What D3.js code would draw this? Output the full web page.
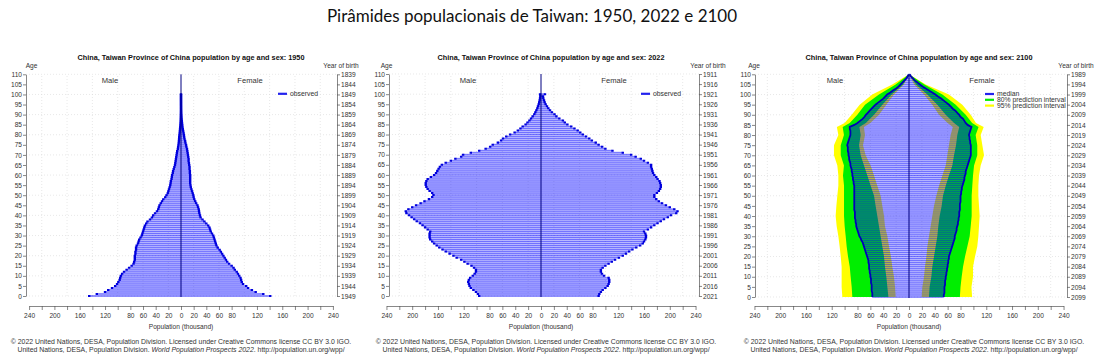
<!DOCTYPE html>
<html><head><meta charset="utf-8">
<script src="https://cdn.jsdelivr.net/npm/d3@7"></script>
<style>
body{margin:0;background:#fff}
svg{display:block}
text{font-family:"Liberation Sans",Arial,sans-serif}
</style>
</head><body>
<svg id="chart" width="1097" height="362"></svg>
<script>
// ages shown on the pyramids
var ages100 = d3.range(0, 101);
var ages110 = d3.range(0, 111);
var bandAges = [0,5,10,15,20,25,30,35,40,45,50,55,60,65,70,75,80,84,86,90,95,100,105,110];

// x axis ticks (thousand)
var xTicks = d3.range(-240, 241, 20);
var xLabelled = [-240,-200,-160,-120,-80,-60,-40,-20,0,20,40,60,80,120,160,200,240];

// 1950 observed (thousand)
var male1950 = [145,133,120,115,109,104,101,99,97,96,
  95,93,90,86,82,78,75,74,73,73,
  73,72,72,71,71,70,68,67,66,64,
  62,61,60,59,58,57,55,53,49,46,
  44,41,38,36,35,34,32,30,28,25,
  23,21,20,19,18,17,16.5,16,15,14.5,
  14,13,12.5,11.5,10.5,9.5,9,8.5,8,7.5,
  7,6.5,6,5,4.5,4,3.6,3.3,3,2.8,
  2.5,2.1,1.8,1.5,1.2,1,0.8,0.6,0.5,0.4,
  0.3,0.25,0.2,0.15,0.1,0.1,0.05,0.05,0.03,0.02,0.02];
var female1950 = [141,130,118,112,106,103,98,96,95,94,
  92,90,88,85,83,80,76,73,71,69,
  67,65,63,61,58,56,55,54,53,52,
  51,49,47,46,45,43,40,37,34,31,
  30,29,28.5,28,27,26,24,22.5,21,20,
  19.5,18.5,17.5,16.5,15.5,15,14.5,14.5,14.5,14.5,
  14.5,14,14,13.5,13.5,13,12.5,12,12,11.5,
  11,10.5,10,9.5,8.5,8,7,6.5,5.5,5,
  4.5,4,3.4,2.8,2.3,2,1.6,1.3,1,0.8,
  0.6,0.45,0.35,0.25,0.2,0.15,0.1,0.08,0.05,0.04,0.05];

// 2022 observed (thousand)
var male2022 = [96,98,101,105,109,111,112,113,112,110,
  106,103,101,101,104,108,114,119,124,131,
  136,142,148,153,158,162,166,169,172,173,
  173,173,172,176,180,184,188,193,197,201,
  205,209,210,206,200,194,187,181,174,169,
  167,169,173,176,178,179,179,178,176,171,
  166,163,161,159,157,154,148,140,133,124,
  121,109,96,86,79,75,67,62,59,54,
  48,41,36,32,28.5,24,21,18,15.5,13,
  10.4,8.8,7.2,5.7,4.7,3.6,2.8,2.1,1.5,1.1,1.5];
var female2022 = [89.5,90.6,93,95.8,100,103.5,105,106,106,105,
  98,94.7,93,93,95.8,100,105,110,115,121,
  127,132,137,142,148,154,158,160,162,163,
  163,162,160,166,171,176,181,186,191,197,
  202,210,212,207,200,194,188,183,179,176,
  176,180,183,185,186,186,185,184,181,179,
  176,174,173,172,171,171,166,160,155,147,
  140,127,111,100,95,89.5,85,79,75,70,
  65,61,57,52,47,41,37,34,28.5,24,
  21,17,14,11.4,9.3,7.2,5.7,4.7,3.6,3.1,6.2];

// 2100 projection, median (thousand)
var male2100 = [57,57,57,58,58,58,58,59,59,59,
  60,60,61,61,62,62,62,63,63,64,
  65,66,67,68,69,70,71,72,74,75,
  77,78,79,80,81,82,82,83,83,84,
  84,84,84,85,85,85,85,85,85,85,
  85,85,85,85,85,85,86,86,87,87,
  88,88,89,89,90,91,91,92,93,93,
  94,94,95,95,95,96,95,94,93,92,
  91,91,91,92,92,85,80,76,72,69,
  67,64,61,58,55,52,48,44,40,37,
  34,29,25,20,16,13,10,7,4,2,0.5];
var female2100 = [54,54,55,55,55,55,56,56,56,57,
  57,58,58,59,59,60,60,61,61,62,
  62,63,64,65,66,67,68,69,70,71,
  71,72,73,74,74,75,76,76,77,77,
  78,78,78,79,79,79,79,80,80,80,
  80,81,81,82,82,83,84,85,86,86,
  87,88,88,89,90,91,92,93,94,95,
  96,96,96,96,96,96,95,95,94,94,
  93,94,95,96,97,91,88,86,84,80,
  78,75,72,68,65,62,58,54,50,45,
  41,36,31,26,21,17,13,9,6,3,1];

// 2100 prediction intervals at bandAges (thousand)
var male2100Lo95 = [20.7,21.7,23.3,25.9,28,31,33.6,37.3,38.8,41.4,44,49.2,54.3,59.5,67.3,71.4,68.3,70,60,46.6,35.2,23.3,7.8,0];
var male2100Lo80 = [32,33.6,35.2,37.3,38.8,41.4,44,46.6,49.2,51.8,54.3,59.5,64.7,69.9,75,77.6,75,77,67,54.3,41.4,27,9.3,0];
var male2100Hi80 = [88,89,90.6,92,94.7,96.8,98.3,99.9,100.9,100.9,100.9,100.9,102.5,101,106,106,101,103,92,80.2,68.3,46.6,20.7,0];
var male2100Hi95 = [103.5,104.6,104.6,104.6,106,107.7,109.7,112.3,113.9,112.8,111.3,109.7,109.7,111.3,116.5,116.5,109.7,112,100,89,76.6,57,26,0];
var female2100Lo95 = [19.7,20.7,23.3,24.8,27,28.5,31,33.6,36.2,38.8,42.4,46.6,51.8,57,59.5,62,64.7,68,60,46.6,36.2,23.3,8,0];
var female2100Lo80 = [31,32,34.7,36.2,38.8,41.4,44,45.5,47.6,50.7,52.8,57,62,67.3,69.9,73,75,78,70,57,44,28.5,11,0];
var female2100Hi80 = [79,80,81.8,83.9,87,90.6,94.2,95.8,97.3,97.3,97.3,98.3,99.4,101,106,106,103.5,108,98,88,72.5,51.8,24,0];
var female2100Hi95 = [98,97,99.4,99.4,102.5,106,107.7,108.7,109.7,108.7,107.7,107.7,108.7,111.3,116.5,113.9,111.3,116,104,95.8,82.8,62,26,0];

var svg = d3.select("#chart");

// main title
svg.append("text")
  .attr("x", 532).attr("y", 22)
  .attr("text-anchor", "middle")
  .style("font-family", "Lato, 'Open Sans', sans-serif")
  .style("font-size", "17px")
  .attr("fill", "#111")
  .text("Pirâmides populacionais de Taiwan: 1950, 2022 e 2100");

// layout of the three panels
var panels = [
  {year: 1950, zero: 181, k: 0.633, left: 26, right: 337, yBottom: 296, yTop: 74.3,
   titleX: 191, ageX: 31.5, yobX: 341, maleX: 110, femaleX: 250, legX: 278, copyX: 181,
   male: male1950, female: female1950, ages: ages100},
  {year: 2022, zero: 541, k: 0.644, left: 389, right: 699, yBottom: 296, yTop: 74,
   titleX: 551, ageX: 386.5, yobX: 708, maleX: 468, femaleX: 614, legX: 641, copyX: 546,
   male: male2022, female: female2022, ages: ages100},
  {year: 2100, zero: 909, k: 0.644, left: 755, right: 1067, yBottom: 297, yTop: 74.3,
   titleX: 919, ageX: 754, yobX: 1076, maleX: 835, femaleX: 982, legX: 985, copyX: 914,
   male: male2100, female: female2100, ages: ages110, projection: true}
];

panels.forEach(function(p) {
  var x = d3.scaleLinear().domain([-240, 240]).range([p.zero - 240 * p.k, p.zero + 240 * p.k]);
  var y = d3.scaleLinear().domain([0, 110]).range([p.yBottom, p.yTop]);
  var g = svg.append("g");

  // faint dotted grid
  var grid = g.append("g").attr("stroke", "#d9d9d9").attr("stroke-width", 0.6).attr("stroke-dasharray", "1,2");
  [-220,-180,-140,-100,-60,-20,20,60,100,140,180,220].forEach(function(v) {
    grid.append("line").attr("x1", x(v)).attr("x2", x(v)).attr("y1", y(0)).attr("y2", y(110));
  });
  d3.range(0, 111, 10).forEach(function(a) {
    grid.append("line").attr("x1", p.left).attr("x2", p.right).attr("y1", y(a)).attr("y2", y(a));
  });

  // prediction bands under the bars
  if (p.projection) {
    var bands = [
      {lo: [male2100Lo95, female2100Lo95], hi: [male2100Hi95, female2100Hi95], color: "#ffff00"},
      {lo: [male2100Lo80, female2100Lo80], hi: [male2100Hi80, female2100Hi80], color: "#00ee00"}
    ];
    bands.forEach(function(b) {
      [-1, 1].forEach(function(sign, si) {
        var area = d3.area()
          .y(function(d, i) { return y(bandAges[i]); })
          .x0(function(d, i) { return x(sign * b.lo[si][i]); })
          .x1(function(d, i) { return x(sign * b.hi[si][i]); });
        g.append("path").datum(bandAges).attr("d", area).attr("fill", b.color);
      });
    });
  }

  // bars, one per single year of age
  [[-1, p.male], [1, p.female]].forEach(function(s) {
    var sign = s[0], vals = s[1];
    g.append("g").selectAll("rect").data(vals).enter().append("rect")
      .attr("x", function(d) { return sign < 0 ? x(-d) : x(0); })
      .attr("width", function(d) { return Math.abs(x(d) - x(0)); })
      .attr("y", function(d, i) { return y(p.ages[i] + 0.5); })
      .attr("height", function(d, i) { return y(p.ages[i] - 0.5) - y(p.ages[i] + 0.5); })
      .attr("fill", "#0000ff").attr("fill-opacity", 0.3);
    g.append("g").selectAll("line").data(vals).enter().append("line")
      .attr("x1", x(0))
      .attr("x2", function(d) { return x(sign * d); })
      .attr("y1", function(d, i) { return y(p.ages[i]); })
      .attr("y2", function(d, i) { return y(p.ages[i]); })
      .attr("stroke", "#0000ff").attr("stroke-opacity", 0.42).attr("stroke-width", 0.9);

    if (p.projection) {
      var line = d3.line()
        .x(function(d) { return x(sign * d); })
        .y(function(d, i) { return y(p.ages[i]); });
      g.append("path").datum(vals).attr("d", line)
        .attr("fill", "none").attr("stroke", "#0000b8").attr("stroke-width", 1.8);
    } else {
      // short thick marks at the end of every bar
      var d = vals.map(function(v, i) {
        return "M" + x(sign * v) + "," + y(p.ages[i] - 0.5) + "V" + y(p.ages[i] + 0.5);
      }).join("");
      g.append("path").attr("d", d).attr("fill", "none")
        .attr("stroke", "#0000dd").attr("stroke-width", 2.4);
    }
  });

  // centre line
  g.append("line").attr("x1", x(0)).attr("x2", x(0)).attr("y1", y(-0.5)).attr("y2", y(110))
    .attr("stroke", "#000080").attr("stroke-width", 1);

  // axes
  var yAxisL = d3.axisLeft(y).tickValues(d3.range(0, 111, 5)).tickSize(3).tickSizeOuter(0).tickPadding(1);
  var yAxisR = d3.axisRight(y).tickValues(d3.range(0, 111, 5)).tickSize(3).tickSizeOuter(0).tickPadding(1)
    .tickFormat(function(a) { return p.year - 1 - a; });
  var xAxis = d3.axisBottom(x).tickValues(xTicks).tickSize(4).tickSizeOuter(0).tickPadding(3)
    .tickFormat(function(v) { return xLabelled.indexOf(v) >= 0 ? Math.abs(v) : ""; });

  [[yAxisL, "translate(" + p.left + ",0)"], [yAxisR, "translate(" + p.right + ",0)"],
   [xAxis, "translate(0,306)"]].forEach(function(a) {
    var ag = g.append("g").attr("transform", a[1]).call(a[0]);
    ag.selectAll("path,line").attr("stroke", "#555").attr("stroke-width", 0.7);
    ag.selectAll("text").attr("fill", "#333").style("font-size", "6.6px")
      .style("font-family", "'Liberation Sans',Arial,sans-serif");
  });

  // labels
  g.append("text").attr("x", p.titleX).attr("y", 59.5).attr("text-anchor", "middle")
    .style("font-size", "7.3px").style("font-weight", "bold").attr("fill", "#111")
    .text("China, Taiwan Province of China population by age and sex: " + p.year);
  g.append("text").attr("x", p.ageX).attr("y", 67.5).attr("text-anchor", "middle")
    .style("font-size", "6.6px").attr("fill", "#333").text("Age");
  g.append("text").attr("x", p.yobX).attr("y", 67.5).attr("text-anchor", "middle")
    .style("font-size", "6.6px").attr("fill", "#333").text("Year of birth");
  g.append("text").attr("x", p.maleX).attr("y", 82.5).attr("text-anchor", "middle")
    .style("font-size", "7.6px").attr("fill", "#333").text("Male");
  g.append("text").attr("x", p.femaleX).attr("y", 82.5).attr("text-anchor", "middle")
    .style("font-size", "7.6px").attr("fill", "#333").text("Female");
  g.append("text").attr("x", p.zero).attr("y", 329).attr("text-anchor", "middle")
    .style("font-size", "6.6px").attr("fill", "#333").text("Population (thousand)");

  // legend
  var legend = p.projection
    ? [["median", "#2222ee", 94], ["80% prediction interval", "#00ee00", 99.8], ["95% prediction interval", "#ffff00", 105.6]]
    : [["observed", "#2222ee", 93.8]];
  legend.forEach(function(l) {
    g.append("line").attr("x1", p.legX).attr("x2", p.legX + 9).attr("y1", l[2]).attr("y2", l[2])
      .attr("stroke", l[1]).attr("stroke-width", 2.2);
    g.append("text").attr("x", p.legX + 12).attr("y", l[2] + 2.4)
      .style("font-size", "6.8px").attr("fill", "#333").text(l[0]);
  });

  // source lines
  g.append("text").attr("x", p.copyX).attr("y", 344).attr("text-anchor", "middle")
    .style("font-size", "6.9px").attr("fill", "#333")
    .text("© 2022 United Nations, DESA, Population Division. Licensed under Creative Commons license CC BY 3.0 IGO.");
  var src = g.append("text").attr("x", p.copyX).attr("y", 352).attr("text-anchor", "middle")
    .style("font-size", "6.9px").attr("fill", "#333");
  src.append("tspan").text("United Nations, DESA, Population Division. ");
  src.append("tspan").style("font-style", "italic").text("World Population Prospects 2022");
  src.append("tspan").text(". http://population.un.org/wpp/");
});
</script>
</body></html>
